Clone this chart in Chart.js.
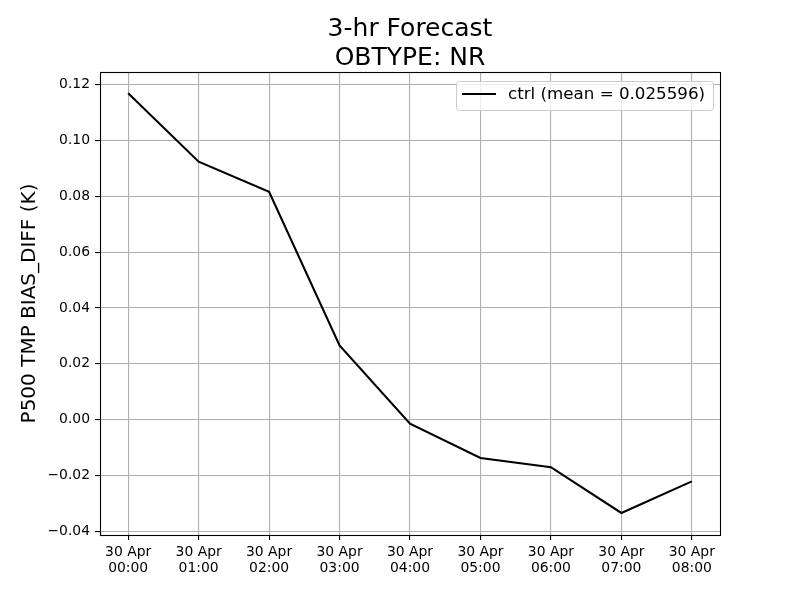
<!DOCTYPE html>
<html>
<head>
<meta charset="utf-8">
<script src="https://cdn.jsdelivr.net/npm/chart.js@4"></script>
<style>
  html, body { margin: 0; padding: 0; background: #fff; }
  #wrap { width: 800px; height: 600px; }
</style>
</head>
<body>
<div id="wrap"><canvas id="chart" width="800" height="600"></canvas></div>
<script>
// data
const dayLabel = "30 Apr";
const hours = ["00:00", "01:00", "02:00", "03:00", "04:00", "05:00", "06:00", "07:00", "08:00"];
const biasDiff = [0.1169, 0.0924, 0.0816, 0.0266, -0.0014, -0.0137, -0.0170, -0.0334, -0.0221];
const yTicks = [-0.04, -0.02, 0.00, 0.02, 0.04, 0.06, 0.08, 0.10, 0.12];
const titleLines = ["3-hr Forecast", "OBTYPE: NR"];
const yTitle = "P500 TMP BIAS_DIFF (K)";
const legendText = "ctrl (mean = 0.025596)";

const FONT = "'DejaVu Sans', sans-serif";

// titles, frame, legend, y label
const decorations = {
  id: "decorations",
  afterDraw(chart){
    const ctx = chart.ctx;
    const a = chart.chartArea;
    ctx.save();

    // frame around the plot
    ctx.strokeStyle = "#000";
    ctx.lineWidth = 1.1;
    ctx.strokeRect(a.left + 0.5, a.top + 0.5, a.right - a.left, a.bottom - a.top);

    // title
    ctx.fillStyle = "#000";
    ctx.textAlign = "center";
    ctx.textBaseline = "alphabetic";
    ctx.font = "25px " + FONT;
    const cx = (a.left + a.right) / 2;
    ctx.fillText(titleLines[0], cx, 36);
    ctx.fillText(titleLines[1], cx, 65);

    // y axis title
    ctx.save();
    ctx.translate(35, (a.top + a.bottom) / 2);
    ctx.rotate(-Math.PI / 2);
    ctx.font = "20px " + FONT;
    ctx.textBaseline = "alphabetic";
    ctx.fillText(yTitle, 0, 0);
    ctx.restore();

    // legend
    const bx = a.right - 264, by = a.top + 9, bw = 257, bh = 29;
    ctx.fillStyle = "rgba(255,255,255,0.8)";
    ctx.strokeStyle = "#cccccc";
    ctx.lineWidth = 1;
    ctx.beginPath();
    ctx.roundRect(bx + 0.5, by + 0.5, bw, bh, 3);
    ctx.fill();
    ctx.stroke();
    ctx.strokeStyle = "#000";
    ctx.lineWidth = 2.1;
    ctx.beginPath();
    ctx.moveTo(bx + 6, by + 13);
    ctx.lineTo(bx + 40, by + 13);
    ctx.stroke();
    ctx.fillStyle = "#000";
    ctx.textAlign = "left";
    ctx.textBaseline = "middle";
    ctx.font = "16.7px " + FONT;
    ctx.fillText(legendText, bx + 52, by + 14);

    ctx.restore();
  }
};

const points = biasDiff.map((v, i) => ({ x: i, y: v }));

new Chart(document.getElementById("chart"), {
  type: "line",
  data: {
    datasets: [{
      label: legendText,
      data: points,
      borderColor: "#000",
      borderWidth: 2.1,
      pointRadius: 0,
      tension: 0,
      fill: false
    }]
  },
  options: {
    responsive: false,
    animation: false,
    layout: { padding: { top: 72, right: 80, bottom: 0, left: 0 } },
    plugins: {
      legend: { display: false },
      title: { display: false },
      tooltip: { enabled: false }
    },
    scales: {
      x: {
        type: "linear",
        min: -0.4,
        max: 8.4,
        afterBuildTicks(scale){
          scale.ticks = hours.map((h, i) => ({ value: i }));
        },
        afterFit(scale){ scale.height = 65; },
        ticks: {
          autoSkip: false,
          maxRotation: 0,
          color: "#000",
          padding: 4,
          font: { family: FONT, size: 13.9, lineHeight: 1.15 },
          callback: (v) => [dayLabel, hours[v]]
        },
        grid: { color: "#b0b0b0", lineWidth: 1.1, tickColor: "#000", tickLength: 5 },
        border: { display: false }
      },
      y: {
        min: -0.0413,
        max: 0.1245,
        afterBuildTicks(scale){
          scale.ticks = yTicks.map(v => ({ value: v }));
        },
        afterFit(scale){ scale.width = 100; },
        ticks: {
          color: "#000",
          padding: 5,
          font: { family: FONT, size: 13.9 },
          callback: (v) => (v < 0 ? "\u2212" + Math.abs(v).toFixed(2) : v.toFixed(2))
        },
        grid: { color: "#b0b0b0", lineWidth: 1.1, tickColor: "#000", tickLength: 5 },
        border: { display: false }
      }
    }
  },
  plugins: [decorations]
});
</script>
</body>
</html>
